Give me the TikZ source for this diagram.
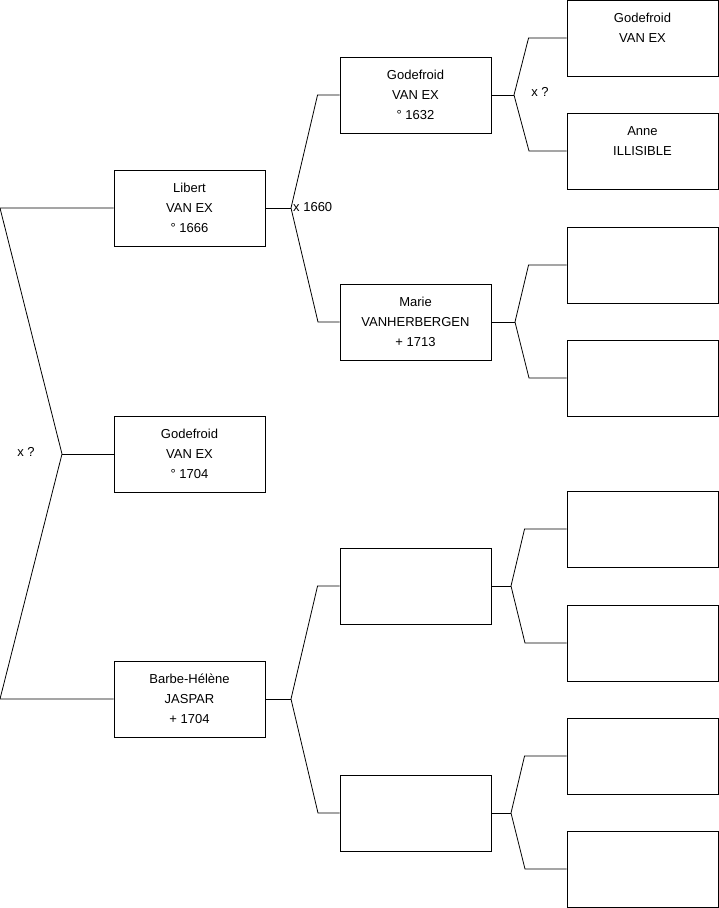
\documentclass[tikz,border=0pt]{standalone}
\usepackage{fontspec}
\setmainfont{Liberation Sans}
\tikzset{
  person/.style={draw, line width=0.9pt, minimum width=151pt, minimum height=76pt,
    inner sep=0pt, align=center, font=\fontsize{13}{20}\selectfont},
  note/.style={font=\fontsize{13}{14}\selectfont, inner sep=1pt},
  link/.style={line width=0.8pt}
}
\begin{document}
\begin{tikzpicture}[x=1pt, y=-1pt]
  \useasboundingbox (0,0) rectangle (719,908);
  % First generation
  \node [person] (libert) at (189.5,208) {Libert\\VAN EX\\° 1666};
  \node [person] (godefroid) at (189.5,454) {Godefroid\\VAN EX\\° 1704};
  \node [person] (barbe) at (189.5,699) {Barbe-Hélène\\JASPAR\\+ 1704};
  % Second generation
  \node [person] (godefroidA) at (415.5,95) {Godefroid\\VAN EX\\° 1632};
  \node [person] (marie) at (415.5,322) {Marie\\VANHERBERGEN\\+ 1713};
  \node [person] (pA) at (415.5,586) {};
  \node [person] (pB) at (415.5,813) {};
  % Third generation
  \node [person] (godefroidB) at (642.5,38) {Godefroid\\VAN EX\\\mbox{}};
  \node [person] (anne) at (642.5,151) {Anne\\ILLISIBLE\\\mbox{}};
  \node [person] (qA) at (642.5,265) {};
  \node [person] (qB) at (642.5,378) {};
  \node [person] (qC) at (642.5,529) {};
  \node [person] (qD) at (642.5,643) {};
  \node [person] (qE) at (642.5,756) {};
  \node [person] (qF) at (642.5,869) {};
  % Fork points
  \coordinate (c0a) at (0,208);
  \coordinate (c0b) at (0,699);
  \coordinate (f0) at (62,454);
  \coordinate (f1) at (291,208);
  \coordinate (f2) at (291,699);
  \coordinate (f3) at (514,95);
  \coordinate (f4) at (515,322);
  \coordinate (f5) at (511,586);
  \coordinate (f6) at (511,813);
  % Links
  \draw [link] (libert.west) -- (c0a) -- (f0) -- (c0b) -- (barbe.west);
  \draw [link] (f0) -- (godefroid.west);
  \draw [link] (libert.east) -- (f1);
  \draw [link] (godefroidA.west) -- ++(-22,0) -- (f1) -- (318,322) -- (marie.west);
  \draw [link] (barbe.east) -- (f2);
  \draw [link] (pA.west) -- ++(-22,0) -- (f2) -- (318,813) -- (pB.west);
  \draw [link] (godefroidA.east) -- (f3);
  \draw [link] (godefroidB.west) -- ++(-38,0) -- (f3) -- (529,151) -- (anne.west);
  \draw [link] (marie.east) -- (f4);
  \draw [link] (qA.west) -- ++(-38,0) -- (f4) -- (529,378) -- (qB.west);
  \draw [link] (pA.east) -- (f5);
  \draw [link] (qC.west) -- ++(-42,0) -- (f5) -- (525,643) -- (qD.west);
  \draw [link] (pB.east) -- (f6);
  \draw [link] (qE.west) -- ++(-42,0) -- (f6) -- (525,869) -- (qF.west);
  % Marriages
  \node [note] (m0) at (26,452) {x ?};
  \node [note, anchor=west] (m1) at (292,207) {x 1660};
  \node [note] (m2) at (540,92) {x ?};
\end{tikzpicture}
\end{document}
